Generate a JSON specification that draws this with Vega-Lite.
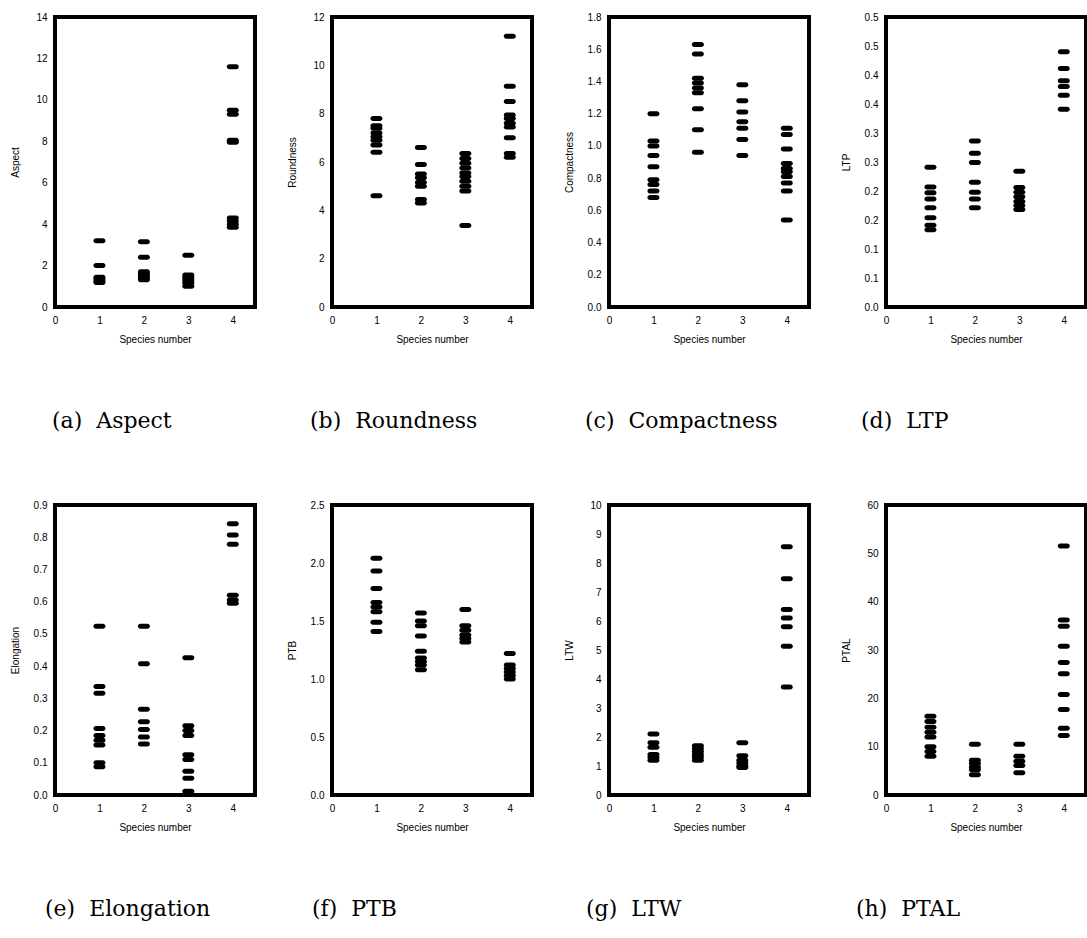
{
  "$schema": "https://vega.github.io/schema/vega-lite/v6.json",
  "padding": {"left": 8, "top": 10, "right": 5, "bottom": 5},
  "background": "white",
  "datasets": {
    "aspect": [
      {"species": 1, "value": 3.2}, {"species": 1, "value": 2.0}, {"species": 1, "value": 1.44}, {"species": 1, "value": 1.35}, {"species": 1, "value": 1.25}, {"species": 1, "value": 1.18},
      {"species": 2, "value": 3.15}, {"species": 2, "value": 2.4}, {"species": 2, "value": 1.7}, {"species": 2, "value": 1.6}, {"species": 2, "value": 1.5}, {"species": 2, "value": 1.4}, {"species": 2, "value": 1.32},
      {"species": 3, "value": 2.5}, {"species": 3, "value": 1.55}, {"species": 3, "value": 1.45}, {"species": 3, "value": 1.35}, {"species": 3, "value": 1.25}, {"species": 3, "value": 1.15}, {"species": 3, "value": 1.0},
      {"species": 4, "value": 11.6}, {"species": 4, "value": 9.5}, {"species": 4, "value": 9.3}, {"species": 4, "value": 8.05}, {"species": 4, "value": 7.95}, {"species": 4, "value": 4.3}, {"species": 4, "value": 4.15}, {"species": 4, "value": 4.0}, {"species": 4, "value": 3.85}
    ],
    "roundness": [
      {"species": 1, "value": 7.8}, {"species": 1, "value": 7.5}, {"species": 1, "value": 7.4}, {"species": 1, "value": 7.2}, {"species": 1, "value": 7.05}, {"species": 1, "value": 6.9}, {"species": 1, "value": 6.7}, {"species": 1, "value": 6.4}, {"species": 1, "value": 4.6},
      {"species": 2, "value": 6.6}, {"species": 2, "value": 5.9}, {"species": 2, "value": 5.5}, {"species": 2, "value": 5.35}, {"species": 2, "value": 5.15}, {"species": 2, "value": 5.0}, {"species": 2, "value": 4.45}, {"species": 2, "value": 4.3},
      {"species": 3, "value": 6.35}, {"species": 3, "value": 6.15}, {"species": 3, "value": 5.95}, {"species": 3, "value": 5.75}, {"species": 3, "value": 5.55}, {"species": 3, "value": 5.4}, {"species": 3, "value": 5.2}, {"species": 3, "value": 5.0}, {"species": 3, "value": 4.8}, {"species": 3, "value": 3.37},
      {"species": 4, "value": 11.2}, {"species": 4, "value": 9.13}, {"species": 4, "value": 8.5}, {"species": 4, "value": 7.95}, {"species": 4, "value": 7.8}, {"species": 4, "value": 7.6}, {"species": 4, "value": 7.45}, {"species": 4, "value": 7.0}, {"species": 4, "value": 6.35}, {"species": 4, "value": 6.2}
    ],
    "compactness": [
      {"species": 1, "value": 1.2}, {"species": 1, "value": 1.03}, {"species": 1, "value": 1.0}, {"species": 1, "value": 0.94}, {"species": 1, "value": 0.87}, {"species": 1, "value": 0.79}, {"species": 1, "value": 0.76}, {"species": 1, "value": 0.72}, {"species": 1, "value": 0.68},
      {"species": 2, "value": 1.63}, {"species": 2, "value": 1.57}, {"species": 2, "value": 1.42}, {"species": 2, "value": 1.39}, {"species": 2, "value": 1.36}, {"species": 2, "value": 1.33}, {"species": 2, "value": 1.23}, {"species": 2, "value": 1.1}, {"species": 2, "value": 0.96},
      {"species": 3, "value": 1.38}, {"species": 3, "value": 1.28}, {"species": 3, "value": 1.21}, {"species": 3, "value": 1.15}, {"species": 3, "value": 1.11}, {"species": 3, "value": 1.04}, {"species": 3, "value": 0.94},
      {"species": 4, "value": 1.11}, {"species": 4, "value": 1.07}, {"species": 4, "value": 0.98}, {"species": 4, "value": 0.89}, {"species": 4, "value": 0.86}, {"species": 4, "value": 0.84}, {"species": 4, "value": 0.81}, {"species": 4, "value": 0.77}, {"species": 4, "value": 0.72}, {"species": 4, "value": 0.54}
    ],
    "ltp": [
      {"species": 1, "value": 0.241}, {"species": 1, "value": 0.207}, {"species": 1, "value": 0.197}, {"species": 1, "value": 0.186}, {"species": 1, "value": 0.171}, {"species": 1, "value": 0.154}, {"species": 1, "value": 0.141}, {"species": 1, "value": 0.133},
      {"species": 2, "value": 0.286}, {"species": 2, "value": 0.265}, {"species": 2, "value": 0.249}, {"species": 2, "value": 0.215}, {"species": 2, "value": 0.198}, {"species": 2, "value": 0.186}, {"species": 2, "value": 0.171},
      {"species": 3, "value": 0.234}, {"species": 3, "value": 0.206}, {"species": 3, "value": 0.198}, {"species": 3, "value": 0.19}, {"species": 3, "value": 0.182}, {"species": 3, "value": 0.175}, {"species": 3, "value": 0.168},
      {"species": 4, "value": 0.44}, {"species": 4, "value": 0.411}, {"species": 4, "value": 0.39}, {"species": 4, "value": 0.38}, {"species": 4, "value": 0.365}, {"species": 4, "value": 0.341}
    ],
    "elongation": [
      {"species": 1, "value": 0.524}, {"species": 1, "value": 0.337}, {"species": 1, "value": 0.316}, {"species": 1, "value": 0.206}, {"species": 1, "value": 0.185}, {"species": 1, "value": 0.17}, {"species": 1, "value": 0.155}, {"species": 1, "value": 0.1}, {"species": 1, "value": 0.088},
      {"species": 2, "value": 0.524}, {"species": 2, "value": 0.407}, {"species": 2, "value": 0.266}, {"species": 2, "value": 0.227}, {"species": 2, "value": 0.203}, {"species": 2, "value": 0.18}, {"species": 2, "value": 0.158},
      {"species": 3, "value": 0.426}, {"species": 3, "value": 0.215}, {"species": 3, "value": 0.2}, {"species": 3, "value": 0.185}, {"species": 3, "value": 0.125}, {"species": 3, "value": 0.11}, {"species": 3, "value": 0.074}, {"species": 3, "value": 0.052}, {"species": 3, "value": 0.012}, {"species": 3, "value": 0.003},
      {"species": 4, "value": 0.842}, {"species": 4, "value": 0.807}, {"species": 4, "value": 0.778}, {"species": 4, "value": 0.62}, {"species": 4, "value": 0.605}, {"species": 4, "value": 0.595}
    ],
    "ptb": [
      {"species": 1, "value": 2.04}, {"species": 1, "value": 1.93}, {"species": 1, "value": 1.78}, {"species": 1, "value": 1.66}, {"species": 1, "value": 1.62}, {"species": 1, "value": 1.58}, {"species": 1, "value": 1.49}, {"species": 1, "value": 1.41},
      {"species": 2, "value": 1.57}, {"species": 2, "value": 1.5}, {"species": 2, "value": 1.46}, {"species": 2, "value": 1.37}, {"species": 2, "value": 1.24}, {"species": 2, "value": 1.18}, {"species": 2, "value": 1.15}, {"species": 2, "value": 1.12}, {"species": 2, "value": 1.08},
      {"species": 3, "value": 1.6}, {"species": 3, "value": 1.46}, {"species": 3, "value": 1.42}, {"species": 3, "value": 1.38}, {"species": 3, "value": 1.35}, {"species": 3, "value": 1.32},
      {"species": 4, "value": 1.22}, {"species": 4, "value": 1.12}, {"species": 4, "value": 1.09}, {"species": 4, "value": 1.06}, {"species": 4, "value": 1.03}, {"species": 4, "value": 1.0}
    ],
    "ltw": [
      {"species": 1, "value": 2.1}, {"species": 1, "value": 1.8}, {"species": 1, "value": 1.65}, {"species": 1, "value": 1.4}, {"species": 1, "value": 1.3}, {"species": 1, "value": 1.2},
      {"species": 2, "value": 1.7}, {"species": 2, "value": 1.6}, {"species": 2, "value": 1.5}, {"species": 2, "value": 1.4}, {"species": 2, "value": 1.3}, {"species": 2, "value": 1.2},
      {"species": 3, "value": 1.8}, {"species": 3, "value": 1.35}, {"species": 3, "value": 1.2}, {"species": 3, "value": 1.1}, {"species": 3, "value": 1.0}, {"species": 3, "value": 0.95},
      {"species": 4, "value": 8.56}, {"species": 4, "value": 7.46}, {"species": 4, "value": 6.4}, {"species": 4, "value": 6.1}, {"species": 4, "value": 5.8}, {"species": 4, "value": 5.13}, {"species": 4, "value": 3.72}
    ],
    "ptal": [
      {"species": 1, "value": 16.3}, {"species": 1, "value": 15.2}, {"species": 1, "value": 14.0}, {"species": 1, "value": 13.0}, {"species": 1, "value": 12.0}, {"species": 1, "value": 10.0}, {"species": 1, "value": 9.0}, {"species": 1, "value": 8.0},
      {"species": 2, "value": 10.5}, {"species": 2, "value": 7.2}, {"species": 2, "value": 6.5}, {"species": 2, "value": 5.8}, {"species": 2, "value": 5.2}, {"species": 2, "value": 4.2},
      {"species": 3, "value": 10.5}, {"species": 3, "value": 8.0}, {"species": 3, "value": 7.0}, {"species": 3, "value": 6.1}, {"species": 3, "value": 4.6},
      {"species": 4, "value": 51.5}, {"species": 4, "value": 36.2}, {"species": 4, "value": 34.9}, {"species": 4, "value": 30.8}, {"species": 4, "value": 27.4}, {"species": 4, "value": 25.1}, {"species": 4, "value": 20.8}, {"species": 4, "value": 17.7}, {"species": 4, "value": 13.8}, {"species": 4, "value": 12.3}
    ]
  },
  "columns": 4,
  "spacing": {"row": 64, "column": 28},
  "concat": [
    {
      "width": 200, "height": 290,
      "data": {"name": "aspect"},
      "title": {"text": "(a)\u00a0 Aspect", "dx": -3},
      "mark": {"type": "tick", "orient": "horizontal", "size": 12, "thickness": 5, "cornerRadius": 2.5, "color": "black", "opacity": 1},
      "encoding": {
        "x": {"field": "species", "type": "quantitative", "scale": {"domain": [0, 4.5], "nice": false}, "axis": {"values": [0, 1, 2, 3, 4], "title": "Species number"}},
        "y": {"field": "value", "type": "quantitative", "scale": {"domain": [0, 14], "nice": false}, "axis": {"values": [0, 2, 4, 6, 8, 10, 12, 14], "title": "Aspect"}}
      }
    },
    {
      "width": 200, "height": 290,
      "data": {"name": "roundness"},
      "title": {"text": "(b)\u00a0 Roundness", "dx": -22},
      "mark": {"type": "tick", "orient": "horizontal", "size": 12, "thickness": 5, "cornerRadius": 2.5, "color": "black", "opacity": 1},
      "encoding": {
        "x": {"field": "species", "type": "quantitative", "scale": {"domain": [0, 4.5], "nice": false}, "axis": {"values": [0, 1, 2, 3, 4], "title": "Species number"}},
        "y": {"field": "value", "type": "quantitative", "scale": {"domain": [0, 12], "nice": false}, "axis": {"values": [0, 2, 4, 6, 8, 10, 12], "title": "Roundness"}}
      }
    },
    {
      "width": 200, "height": 290,
      "data": {"name": "compactness"},
      "title": {"text": "(c)\u00a0 Compactness", "dx": -24},
      "mark": {"type": "tick", "orient": "horizontal", "size": 12, "thickness": 5, "cornerRadius": 2.5, "color": "black", "opacity": 1},
      "encoding": {
        "x": {"field": "species", "type": "quantitative", "scale": {"domain": [0, 4.5], "nice": false}, "axis": {"values": [0, 1, 2, 3, 4], "title": "Species number"}},
        "y": {"field": "value", "type": "quantitative", "scale": {"domain": [0, 1.8], "nice": false}, "axis": {"values": [0, 0.2, 0.4, 0.6, 0.8, 1.0, 1.2, 1.4, 1.6, 1.8], "format": ".1f", "title": "Compactness"}}
      }
    },
    {
      "width": 200, "height": 290,
      "data": {"name": "ltp"},
      "title": {"text": "(d)\u00a0 LTP", "dx": -25},
      "mark": {"type": "tick", "orient": "horizontal", "size": 12, "thickness": 5, "cornerRadius": 2.5, "color": "black", "opacity": 1},
      "encoding": {
        "x": {"field": "species", "type": "quantitative", "scale": {"domain": [0, 4.5], "nice": false}, "axis": {"values": [0, 1, 2, 3, 4], "title": "Species number"}},
        "y": {"field": "value", "type": "quantitative", "scale": {"domain": [0, 0.5], "nice": false}, "axis": {"values": [0, 0.05, 0.1, 0.15, 0.2, 0.25, 0.3, 0.35, 0.4, 0.45, 0.5], "labelExpr": "format(round(datum.value * 10 + 0.0001) / 10, '.1f')", "title": "LTP"}}
      }
    },
    {
      "width": 200, "height": 290,
      "data": {"name": "elongation"},
      "title": {"text": "(e)\u00a0 Elongation", "dx": -10},
      "mark": {"type": "tick", "orient": "horizontal", "size": 12, "thickness": 5, "cornerRadius": 2.5, "color": "black", "opacity": 1},
      "encoding": {
        "x": {"field": "species", "type": "quantitative", "scale": {"domain": [0, 4.5], "nice": false}, "axis": {"values": [0, 1, 2, 3, 4], "title": "Species number"}},
        "y": {"field": "value", "type": "quantitative", "scale": {"domain": [0, 0.9], "nice": false}, "axis": {"values": [0, 0.1, 0.2, 0.3, 0.4, 0.5, 0.6, 0.7, 0.8, 0.9], "format": ".1f", "title": "Elongation"}}
      }
    },
    {
      "width": 200, "height": 290,
      "data": {"name": "ptb"},
      "title": {"text": "(f)\u00a0 PTB", "dx": -20},
      "mark": {"type": "tick", "orient": "horizontal", "size": 12, "thickness": 5, "cornerRadius": 2.5, "color": "black", "opacity": 1},
      "encoding": {
        "x": {"field": "species", "type": "quantitative", "scale": {"domain": [0, 4.5], "nice": false}, "axis": {"values": [0, 1, 2, 3, 4], "title": "Species number"}},
        "y": {"field": "value", "type": "quantitative", "scale": {"domain": [0, 2.5], "nice": false}, "axis": {"values": [0, 0.5, 1.0, 1.5, 2.0, 2.5], "format": ".1f", "title": "PTB"}}
      }
    },
    {
      "width": 200, "height": 290,
      "data": {"name": "ltw"},
      "title": {"text": "(g)\u00a0 LTW", "dx": -23},
      "mark": {"type": "tick", "orient": "horizontal", "size": 12, "thickness": 5, "cornerRadius": 2.5, "color": "black", "opacity": 1},
      "encoding": {
        "x": {"field": "species", "type": "quantitative", "scale": {"domain": [0, 4.5], "nice": false}, "axis": {"values": [0, 1, 2, 3, 4], "title": "Species number"}},
        "y": {"field": "value", "type": "quantitative", "scale": {"domain": [0, 10], "nice": false}, "axis": {"values": [0, 1, 2, 3, 4, 5, 6, 7, 8, 9, 10], "title": "LTW"}}
      }
    },
    {
      "width": 200, "height": 290,
      "data": {"name": "ptal"},
      "title": {"text": "(h)\u00a0 PTAL", "dx": -30},
      "mark": {"type": "tick", "orient": "horizontal", "size": 12, "thickness": 5, "cornerRadius": 2.5, "color": "black", "opacity": 1},
      "encoding": {
        "x": {"field": "species", "type": "quantitative", "scale": {"domain": [0, 4.5], "nice": false}, "axis": {"values": [0, 1, 2, 3, 4], "title": "Species number"}},
        "y": {"field": "value", "type": "quantitative", "scale": {"domain": [0, 60], "nice": false}, "axis": {"values": [0, 10, 20, 30, 40, 50, 60], "title": "PTAL"}}
      }
    }
  ],
  "config": {
    "view": {"stroke": "black", "strokeWidth": 4},
    "axis": {"grid": false, "ticks": false, "domain": false, "labelFont": "Liberation Sans", "labelFontSize": 10, "labelColor": "black", "titleFont": "Liberation Sans", "titleFontSize": 10, "titleFontWeight": "normal", "titleColor": "black", "labelFlush": false, "labelOverlap": false, "labelPadding": 8},
    "axisY": {"minExtent": 28, "maxExtent": 28, "titlePadding": 7},
    "axisX": {"titlePadding": 9},
    "title": {"font": "DejaVu Serif", "fontSize": 22, "fontWeight": "normal", "color": "black", "orient": "bottom", "anchor": "start", "frame": "group", "offset": 67}
  }
}
